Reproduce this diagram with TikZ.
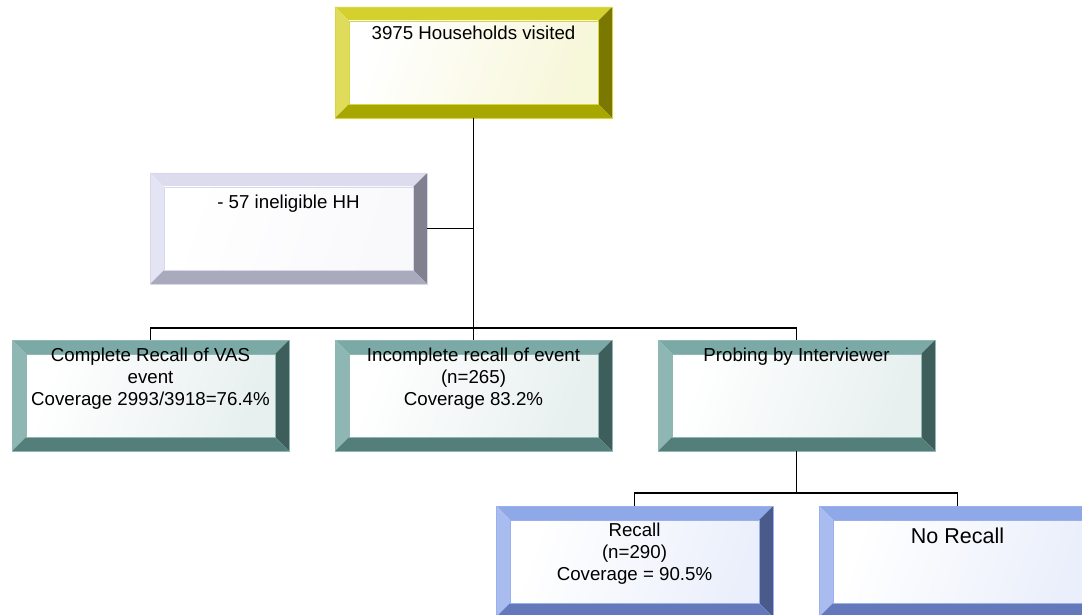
\documentclass[tikz,border=0pt]{standalone}
\usepackage{fontspec}
\setmainfont{Liberation Sans}
\definecolor{yelline}{HTML}{D8D640}
\definecolor{yeltop}{HTML}{D4D02E}
\definecolor{yelleft}{HTML}{DEDC5A}
\definecolor{yelright}{HTML}{7A7800}
\definecolor{yelbot}{HTML}{A8A600}
\definecolor{lavline}{HTML}{D8D8EC}
\definecolor{lavtop}{HTML}{DCDCEE}
\definecolor{lavleft}{HTML}{E4E4F4}
\definecolor{lavright}{HTML}{80808F}
\definecolor{lavbot}{HTML}{AAAABD}
\definecolor{tealline}{HTML}{8FB8B4}
\definecolor{tealtop}{HTML}{7BA9A5}
\definecolor{tealleft}{HTML}{8EB7B3}
\definecolor{tealright}{HTML}{3E5E5B}
\definecolor{tealbot}{HTML}{537E7A}
\definecolor{bluline}{HTML}{9AB0EE}
\definecolor{blutop}{HTML}{8FA8E8}
\definecolor{bluleft}{HTML}{A8BCF0}
\definecolor{bluright}{HTML}{4A5A8A}
\definecolor{blubot}{HTML}{6478BC}
\tikzset{
  bevelbox/.style={draw=#1line, line width=0.8pt, minimum width=277pt, minimum height=111pt, inner sep=0pt,
    path picture={
      \coordinate (nw) at (path picture bounding box.north west);
      \coordinate (ne) at (path picture bounding box.north east);
      \coordinate (sw) at (path picture bounding box.south west);
      \coordinate (se) at (path picture bounding box.south east);
      \coordinate (inw) at ([shift={(14pt,-14pt)}]nw);
      \coordinate (ine) at ([shift={(-14pt,-14pt)}]ne);
      \coordinate (isw) at ([shift={(14pt,14pt)}]sw);
      \coordinate (ise) at ([shift={(-14pt,14pt)}]se);
      \fill[#1top] (nw) -- (ne) -- (ine) -- (inw) -- cycle;
      \fill[#1left] (nw) -- (inw) -- (isw) -- (sw) -- cycle;
      \fill[#1right] (ne) -- (ine) -- (ise) -- (se) -- cycle;
      \fill[#1bot] (sw) -- (isw) -- (ise) -- (se) -- cycle;
      \shade[left color=white, right color=#1top!18, shading angle=70] (inw) rectangle (ise);
      \draw[#1line, line width=0.6pt] (inw) rectangle (ise);
    }},
  txt/.style={anchor=north, align=center, inner sep=0pt, font=\fontsize{18.7pt}{22pt}\selectfont},
  link/.style={line width=1.3pt},
}
\begin{document}
\begin{tikzpicture}[x=1pt, y=-1pt]
	\useasboundingbox (0,0) rectangle (1082,615);

	\node[bevelbox=yel, label={[txt, yshift=-19pt]north:3975 Households visited}] (visited) at (473.5,62.5) {};
	\node[bevelbox=lav, label={[txt, yshift=-22pt]north:- 57 ineligible HH}] (inelig) at (288.5,228.5) {};
	\node[bevelbox=teal, label={[txt, yshift=-8pt]north:{Complete Recall of VAS\\event\\Coverage 2993/3918=76.4\%}}] (complete) at (150.5,395.5) {};
	\node[bevelbox=teal, label={[txt, yshift=-8pt]north:{Incomplete recall of event\\(n=265)\\Coverage 83.2\%}}] (incomplete) at (473.5,395.5) {};
	\node[bevelbox=teal, label={[txt, yshift=-8pt]north:Probing by Interviewer}] (probing) at (796.5,395.5) {};
	\node[bevelbox=blu, label={[txt, yshift=-17pt]north:{Recall\\(n=290)\\Coverage = 90.5\%}}] (recall) at (634.5,561.5) {};
	\node[bevelbox=blu, label={[txt, yshift=-22pt, font=\fontsize{21.5pt}{25pt}\selectfont]north:No Recall}] (norecall) at (957.5,561.5) {};

	\coordinate (bus1) at (473.5,328);
	\coordinate (bus2) at (796.5,493);

	\draw[link] (visited.south) -- (bus1);
	\draw[link] (inelig.east) -- (inelig.east -| visited.south);
	\draw[link] (complete.north) |- (bus1);
	\draw[link] (incomplete.north) -- (bus1);
	\draw[link] (probing.north) |- (bus1);
	\draw[link] (probing.south) -- (bus2);
	\draw[link] (recall.north) |- (bus2);
	\draw[link] (norecall.north) |- (bus2);
\end{tikzpicture}
\end{document}
